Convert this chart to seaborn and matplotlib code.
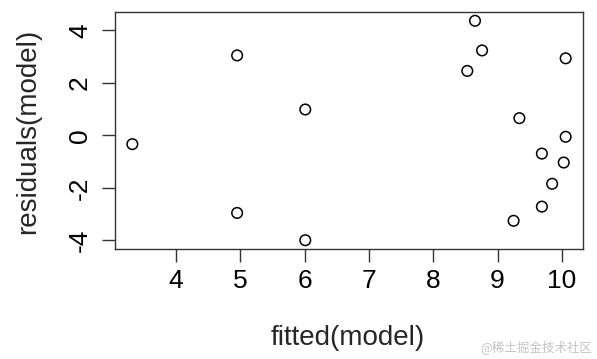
import matplotlib
matplotlib.use("Agg")
import matplotlib.pyplot as plt
import seaborn as sns
import pandas as pd

fitted = [3.32, 4.95, 6.01, 4.95, 6.01, 8.65, 8.76, 10.06, 8.53, 9.34,
          10.06, 9.69, 10.03, 9.85, 9.69, 9.25]
residuals = [-0.33, 3.05, 0.99, -2.95, -3.99, 4.37, 3.24, 2.94, 2.46, 0.66,
             -0.05, -0.69, -1.03, -1.84, -2.71, -3.25]
x_ticks = [4, 5, 6, 7, 8, 9, 10]
y_ticks = [-4, -2, 0, 2, 4]
x_label = "fitted(model)"
y_label = "residuals(model)"
watermark = "@稀土掘金技术社区"

df = pd.DataFrame({"fitted": fitted, "residuals": residuals})

sns.set_style("white")
plt.rcParams["font.family"] = ["Liberation Sans", "DejaVu Sans"]

W, H = 597, 359
fig = plt.figure(figsize=(W / 100, H / 100), dpi=100)
ax = fig.add_axes([115 / W, 1 - 249 / H, (583 - 115) / W, (249 - 12) / H])

sns.scatterplot(data=df, x="fitted", y="residuals", ax=ax, marker="o",
                s=58, facecolors="none", edgecolor="black", linewidth=1.1)

xmin, xmax = min(fitted), max(fitted)
ymin, ymax = min(residuals), max(residuals)
dx, dy = (xmax - xmin) * 0.04, (ymax - ymin) * 0.04
ax.set_xlim(xmin - dx, xmax + dx)
ax.set_ylim(ymin - dy, ymax + dy)

ax.set_xticks(x_ticks)
ax.set_yticks(y_ticks)
ax.set_xticklabels([str(v) for v in x_ticks], fontsize=19)
ax.set_yticklabels([str(v) for v in y_ticks], fontsize=19, rotation=90, va="center")
ax.tick_params(axis="both", direction="out", length=9.5, width=1.0,
               color="#333333", labelcolor="black", bottom=True, left=True)
ax.tick_params(axis="x", pad=5)
ax.tick_params(axis="y", pad=7)

for sp in ax.spines.values():
    sp.set_visible(True)
    sp.set_color("#333333")
    sp.set_linewidth(1.0)

ax.set_xlabel(x_label, fontsize=20)
ax.set_ylabel(y_label, fontsize=20)
ax.xaxis.set_label_coords((348 - 115) / (583 - 115), -(338 - 249) / (249 - 12))
ax.yaxis.set_label_coords(-(115 - 28) / (583 - 115), (249 - 131) / (249 - 12))
ax.xaxis.label.set_va("center")
ax.yaxis.label.set_va("center")

fig.text(592 / W, 1 - 347 / H, watermark, fontsize=9, color="#c4c4c4",
         ha="right", va="center", family=["Noto Sans CJK SC", "DejaVu Sans"])

fig.savefig("out.png", dpi=100, facecolor="white")
